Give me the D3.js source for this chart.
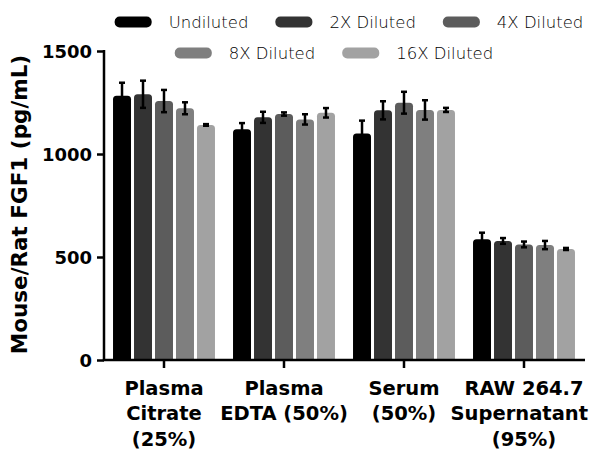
<!DOCTYPE html>
<html><head><meta charset="utf-8">
<script src="https://cdn.jsdelivr.net/npm/d3@7"></script>
<style>
html,body{margin:0;padding:0;background:#fff;}
svg{display:block;}
</style></head>
<body>
<svg id="chart" width="596" height="454"></svg>
<script>
const categories = ["Plasma Citrate (25%)", "Plasma EDTA (50%)", "Serum (50%)", "RAW 264.7 Supernatant (95%)"];
const categoryLines = [["Plasma","Citrate","(25%)"],["Plasma","EDTA (50%)"],["Serum","(50%)"],["RAW 264.7","Supernatant","(95%)"]];
const series = ["Undiluted","2X Diluted","4X Diluted","8X Diluted","16X Diluted"];
const seriesColors = ["#000000","#333333","#5c5c5c","#7f7f7f","#a2a2a2"];
const undiluted = [1283, 1120, 1100, 586];
const diluted2x = [1290, 1178, 1212, 578];
const diluted4x = [1257, 1194, 1249, 561];
const diluted8x = [1222, 1168, 1214, 558];
const diluted16x = [1141, 1200, 1214, 539];
const errUndiluted = [63, 30, 62, 32];
const err2x = [66, 27, 44, 14];
const err4x = [54, 8, 53, 14];
const err8x = [29, 25, 47, 20];
const err16x = [4, 23, 10, 5];
const yTicks = [0, 500, 1000, 1500];
const yLabel = "Mouse/Rat FGF1 (pg/mL)";

const values = [undiluted, diluted2x, diluted4x, diluted8x, diluted16x];
const errors = [errUndiluted, err2x, err4x, err8x, err16x];
const data = categories.map((c, ci) => ({
  cat: c,
  bars: series.map((s, si) => ({s, v: values[si][ci], e: errors[si][ci], color: seriesColors[si]}))
}));

const svg = d3.select("#chart");
const x0 = d3.scaleBand().domain(categories).range([104, 584]).padding(0);
const x1 = d3.scaleBand().domain(series).range([0, x0.bandwidth()]).paddingInner(0.143).paddingOuter(0.43);
const y = d3.scaleLinear().domain([0, 1500]).range([360, 51]);

function topRounded(x, yTop, w, yBase, r) {
  r = Math.min(r, w/2, (yBase - yTop)/2);
  return `M${x},${yBase}V${yTop + r}Q${x},${yTop} ${x + r},${yTop}H${x + w - r}Q${x + w},${yTop} ${x + w},${yTop + r}V${yBase}Z`;
}

// bars
const g = svg.append("g");
const groups = g.selectAll("g.grp").data(data).join("g")
  .attr("transform", d => `translate(${x0(d.cat)},0)`);
groups.selectAll("path.bar").data(d => d.bars).join("path")
  .attr("d", d => topRounded(x1(d.s), y(d.v), x1.bandwidth(), y(0), 3.5))
  .attr("fill", d => d.color);

// error bars
const capW = 6;
const eb = groups.selectAll("g.err").data(d => d.bars).join("g")
  .attr("stroke", "#000").attr("stroke-width", 2.5).attr("fill", "none");
eb.append("line")
  .attr("x1", d => x1(d.s) + x1.bandwidth()/2).attr("x2", d => x1(d.s) + x1.bandwidth()/2)
  .attr("y1", d => y(d.v + d.e)).attr("y2", d => y(d.v - d.e));
eb.append("line")
  .attr("x1", d => x1(d.s) + x1.bandwidth()/2 - capW/2).attr("x2", d => x1(d.s) + x1.bandwidth()/2 + capW/2)
  .attr("y1", d => y(d.v + d.e)).attr("y2", d => y(d.v + d.e));
eb.append("line")
  .attr("x1", d => x1(d.s) + x1.bandwidth()/2 - capW/2).attr("x2", d => x1(d.s) + x1.bandwidth()/2 + capW/2)
  .attr("y1", d => y(d.v - d.e)).attr("y2", d => y(d.v - d.e));

// y axis
const yAxis = svg.append("g").attr("transform", "translate(104,0)")
  .call(d3.axisLeft(y).tickValues(yTicks).tickFormat(d3.format("d")).tickSize(7).tickSizeOuter(0).tickPadding(5));
yAxis.select(".domain").attr("stroke-width", 2.5).attr("d", `M0,${y(1500)-1}V${y(0)+1}`);
yAxis.selectAll(".tick line").attr("stroke-width", 2.5);
yAxis.selectAll(".tick text").attr("font-family", "DejaVu Sans").attr("font-weight", "bold")
  .attr("font-size", 18).attr("fill", "#000").attr("dy", "0.36em");

// x axis
const xAxis = svg.append("g").attr("transform", "translate(0,360)")
  .call(d3.axisBottom(x0).tickSize(8).tickSizeOuter(0).tickFormat(""));
xAxis.select(".domain").attr("stroke-width", 2.5).attr("d", "M102.8,0H585");
xAxis.selectAll(".tick line").attr("stroke-width", 2.5);

// x labels
categories.forEach((c, ci) => {
  const cx = x0(c) + x0.bandwidth()/2;
  const t = svg.append("text").attr("font-family", "DejaVu Sans").attr("font-weight", "bold")
    .attr("font-size", 19.5).attr("fill", "#000").attr("text-anchor", "middle");
  categoryLines[ci].forEach((ln, li) => {
    const ts = t.append("tspan").attr("x", cx).attr("y", 394.5 + li * 25.5).text(ln);
    const w = ts.node().getComputedTextLength();
    if (cx + w/2 > 588) ts.attr("x", 588 - w/2);
  });
});

// y label
svg.append("text").attr("transform", "translate(27,204.5) rotate(-90)")
  .attr("text-anchor", "middle").attr("font-family", "DejaVu Sans").attr("font-weight", "bold")
  .attr("font-size", 21.5).attr("fill", "#000").text(yLabel);

// legend
const rows = [[0,1,2],[3,4]];
const rowCenters = [349, 334];
const rowY = [22, 53];
rows.forEach((row, ri) => {
  const lg = svg.append("g");
  let cx = 0;
  row.forEach((si, k) => {
    lg.append("rect").attr("x", cx).attr("y", rowY[ri] - 5.5).attr("width", 37).attr("height", 11)
      .attr("rx", 5).attr("fill", seriesColors[si]);
    cx += 37 + 17;
    const t = lg.append("text").attr("x", cx).attr("y", rowY[ri]).attr("dy", "0.36em")
      .attr("font-family", "DejaVu Sans").attr("font-weight", 200).attr("font-size", 16.5)
      .attr("fill", "#000").text(series[si]);
    cx += t.node().getComputedTextLength();
    if (k < row.length - 1) cx += 27;
  });
  lg.attr("transform", `translate(${rowCenters[ri] - cx/2},0)`);
});
</script>
</body></html>
